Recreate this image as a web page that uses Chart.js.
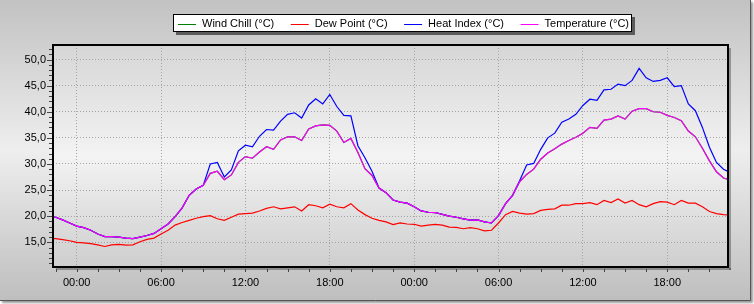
<!DOCTYPE html>
<html>
<head>
<meta charset="utf-8">
<script src="https://cdn.jsdelivr.net/npm/chart.js@4"></script>
<style>
  html, body { margin: 0; padding: 0; background: #fff; }
</style>
</head>
<body>
<canvas id="weather_chart" width="754" height="304"></canvas>
<script>
// samples every half hour, hours counted from the first midnight
const startHour = -2.0;
const stepHours = 0.5;
const xMin = -1.685;
const xMax = 46.32;

const temperature = [
  20.0, 19.8, 19.3, 18.7,
  18.1, 17.8, 17.3, 16.6, 16.1, 16.1, 16.0, 15.8, 15.7, 16.0, 16.3, 16.7,
  17.6, 18.5, 19.9, 21.6, 24.0, 25.2, 25.9, 28.2, 28.6, 27.0, 27.9, 30.3,
  31.4, 31.1, 32.3, 33.3, 32.8, 34.6, 35.2, 35.2, 34.5, 36.7, 37.3, 37.5,
  37.4, 36.3, 34.1, 34.9, 32.2, 29.1, 27.8, 25.4, 24.5, 23.1, 22.7, 22.5,
  21.8, 21.0, 20.75, 20.7, 20.35, 20.0, 19.8, 19.5, 19.25, 19.3, 18.9, 18.7,
  20.1, 22.4, 24.0, 26.6, 28.0, 29.0, 30.9, 32.1, 32.9, 33.8, 34.5, 35.1,
  35.9, 37.0, 36.8, 38.4, 38.6, 39.2, 38.6, 40.1, 40.6, 40.6, 40.0, 39.9,
  39.3, 38.9, 38.3, 36.3, 35.2, 33.0, 30.6, 28.5, 27.3, 26.9
];

const heatIndex = [
  20.0, 19.8, 19.3, 18.7,
  18.1, 17.8, 17.3, 16.6, 16.1, 16.1, 16.0, 15.8, 15.7, 16.0, 16.3, 16.7,
  17.6, 18.5, 19.9, 21.6, 24.0, 25.2, 25.9, 30.0, 30.3, 27.5, 28.85, 32.5,
  33.6, 33.3, 35.3, 36.6, 36.5, 38.2, 39.5, 39.8, 38.8, 41.3, 42.5, 41.5,
  43.3, 41.0, 39.3, 39.2, 33.5, 31.2, 28.6, 25.4, 24.5, 23.1, 22.7, 22.5,
  21.8, 21.0, 20.75, 20.7, 20.35, 20.0, 19.8, 19.5, 19.25, 19.3, 18.9, 18.7,
  20.1, 22.4, 24.0, 26.8, 29.8, 30.1, 32.8, 35.0, 35.9, 38.0, 38.6, 39.5,
  41.2, 42.4, 42.2, 44.2, 44.3, 45.3, 45.0, 46.0, 48.3, 46.5, 45.8, 46.0,
  46.5, 44.8, 45.0, 41.5, 40.2, 37.0, 33.2, 30.3, 29.0, 28.3
];

const dewPoint = [
  15.8, 15.7, 15.5, 15.3,
  15.0, 14.9, 14.75, 14.5, 14.2, 14.5, 14.6, 14.45, 14.5, 15.1, 15.55, 15.8,
  16.6, 17.3, 18.3, 18.8, 19.2, 19.6, 19.9, 20.1, 19.5, 19.2, 19.8, 20.4,
  20.5, 20.6, 21.0, 21.5, 21.8, 21.4, 21.6, 21.8, 21.0, 22.2, 22.0, 21.6,
  22.3, 21.8, 21.6, 22.4, 21.2, 20.3, 19.6, 19.2, 18.9, 18.4, 18.7, 18.5,
  18.45, 18.1, 18.3, 18.45, 18.3, 17.9, 17.85, 17.6, 17.8, 17.6, 17.2, 17.3,
  18.7, 20.3, 20.9, 20.6, 20.4, 20.5, 21.1, 21.3, 21.4, 22.1, 22.1, 22.4,
  22.4, 22.6, 22.2, 23.0, 22.6, 23.3, 22.5, 23.0, 22.2, 21.8, 22.4, 22.8,
  22.7, 22.2, 23.0, 22.5, 22.5, 21.8, 20.9, 20.5, 20.3, 20.2
];

// wind chill is hidden under the temperature line all the way
const windChill = temperature.slice();

const hours = temperature.map((_, i) => startHour + i * stepHours);

function toPoints(values) {
  return values.map((v, i) => ({ x: hours[i], y: v }));
}

function hourLabel(value) {
  if (value % 6 !== 0) return '';
  const hh = ((value % 24) + 24) % 24;
  return String(hh).padStart(2, '0') + ':00';
}

const fontFamily = '"Liberation Sans", Arial, sans-serif';
const gridColor = '#a4a4a4';

Chart.defaults.font.family = fontFamily;
Chart.defaults.font.size = 11;
Chart.defaults.color = '#000';

const framePlugin = {
  id: 'frame',
  beforeDraw(chart) {
    const { ctx, width, height, chartArea: a } = chart;
    ctx.save();
    ctx.fillStyle = '#ffffff';
    ctx.fillRect(0, 0, width, height);

    // outer panel
    const g = ctx.createLinearGradient(0, 0, 0, 301);
    g.addColorStop(0, '#c2c2c2');
    g.addColorStop(0.5, '#eeeeee');
    g.addColorStop(1, '#bebebe');
    ctx.shadowColor = 'rgba(0,0,0,0.4)';
    ctx.shadowOffsetX = 2;
    ctx.shadowOffsetY = 2;
    ctx.shadowBlur = 2;
    ctx.fillStyle = g;
    ctx.fillRect(0, 0, 751, 301);
    ctx.shadowColor = 'rgba(0,0,0,0)';
    ctx.strokeStyle = '#555';
    ctx.lineWidth = 1;
    ctx.beginPath();
    ctx.moveTo(750.5, 0);
    ctx.lineTo(750.5, 300.5);
    ctx.lineTo(0, 300.5);
    ctx.stroke();

    // plot area
    const pg = ctx.createLinearGradient(0, a.top, 0, a.bottom);
    pg.addColorStop(0, '#d6d6d6');
    pg.addColorStop(0.5, '#f3f3f3');
    pg.addColorStop(1, '#cecece');
    ctx.fillStyle = pg;
    ctx.fillRect(a.left, a.top, a.right - a.left, a.bottom - a.top);

    // legend
    const items = chart.data.datasets.slice().reverse();
    ctx.font = '11px ' + fontFamily;
    const boxLeft = 173, boxTop = 14, boxH = 18;
    let total = 5;
    items.forEach((d, i) => {
      total += 24 + ctx.measureText(d.label).width + (i < items.length - 1 ? 16.5 : 3);
    });
    ctx.fillStyle = 'rgba(0,0,0,0.55)';
    ctx.fillRect(boxLeft + 3, boxTop + 3, total, boxH);
    ctx.fillStyle = '#fff';
    ctx.fillRect(boxLeft, boxTop, total, boxH);
    ctx.strokeStyle = '#000';
    ctx.strokeRect(boxLeft + 0.5, boxTop + 0.5, total - 1, boxH - 1);
    let x = boxLeft + 5;
    const cy = boxTop + boxH / 2 + 0.5;
    items.forEach(d => {
      ctx.strokeStyle = d.borderColor;
      ctx.beginPath();
      ctx.moveTo(x, Math.round(cy) + 0.5);
      ctx.lineTo(x + 18, Math.round(cy) + 0.5);
      ctx.stroke();
      ctx.fillStyle = '#000';
      ctx.textBaseline = 'middle';
      ctx.fillText(d.label, x + 24, cy);
      x += 24 + ctx.measureText(d.label).width + 16.5;
    });
    ctx.restore();
  },
  afterDraw(chart) {
    const { ctx, chartArea: a, scales } = chart;
    ctx.save();
    // border shadow and border
    ctx.fillStyle = 'rgba(0,0,0,0.3)';
    ctx.fillRect(a.right + 1, a.top + 3, 2, a.bottom - a.top);
    ctx.fillRect(a.left + 3, a.bottom + 1, a.right - a.left, 2);
    ctx.strokeStyle = '#000';
    ctx.lineWidth = 2;
    ctx.strokeRect(a.left, a.top, a.right - a.left, a.bottom - a.top);

    // tick marks
    ctx.lineWidth = 1;
    ctx.strokeStyle = '#444';
    ctx.beginPath();
    scales.y.ticks.forEach(t => {
      const py = Math.round(scales.y.getPixelForValue(t.value)) + 0.5;
      const len = t.value % 5 === 0 ? 5 : 3;
      ctx.moveTo(a.left - 1 - len, py);
      ctx.lineTo(a.left - 1, py);
    });
    scales.x.ticks.forEach(t => {
      const px = Math.round(scales.x.getPixelForValue(t.value)) + 0.5;
      ctx.moveTo(px, a.bottom + 2);
      ctx.lineTo(px, a.bottom + 5);
    });
    ctx.stroke();
    ctx.restore();
  }
};

const weather_ctx = document.getElementById('weather_chart');

const weather_chart = new Chart(weather_ctx, {
  type: 'line',
  data: {
    datasets: [
      { label: 'Temperature (°C)', data: toPoints(temperature), borderColor: '#ff00ff' },
      { label: 'Heat Index (°C)', data: toPoints(heatIndex), borderColor: '#0000ff' },
      { label: 'Dew Point (°C)', data: toPoints(dewPoint), borderColor: '#ff0000' },
      { label: 'Wind Chill (°C)', data: toPoints(windChill), borderColor: '#008000' }
    ]
  },
  options: {
    responsive: false,
    animation: false,
    layout: { padding: { left: 0, right: 26, top: 45, bottom: 0 } },
    elements: {
      line: { borderWidth: 1.2, tension: 0 },
      point: { radius: 0, hoverRadius: 0 }
    },
    plugins: {
      legend: { display: false },
      tooltip: { enabled: false }
    },
    scales: {
      x: {
        type: 'linear',
        min: xMin,
        max: xMax,
        border: { display: false, dash: [1, 2] },
        grid: {
          drawTicks: false,
          color: c => (c.tick && c.tick.value % 6 === 0) ? gridColor : 'rgba(0,0,0,0)'
        },
        ticks: {
          stepSize: 1.5,
          includeBounds: false,
          autoSkip: false,
          maxRotation: 0,
          padding: 9,
          callback: hourLabel
        },
        afterFit: s => { s.height = 37; }
      },
      y: {
        min: 10.27,
        max: 52.78,
        border: { display: false, dash: [1, 2] },
        grid: {
          drawTicks: false,
          color: c => (c.tick && c.tick.value % 5 === 0) ? gridColor : 'rgba(0,0,0,0)'
        },
        ticks: {
          stepSize: 1,
          includeBounds: false,
          autoSkip: false,
          padding: 7,
          callback: v => v % 5 === 0 ? v.toFixed(1).replace('.', ',') : ''
        },
        afterFit: s => { s.width = 53; }
      }
    }
  },
  plugins: [framePlugin]
});
</script>
</body>
</html>
